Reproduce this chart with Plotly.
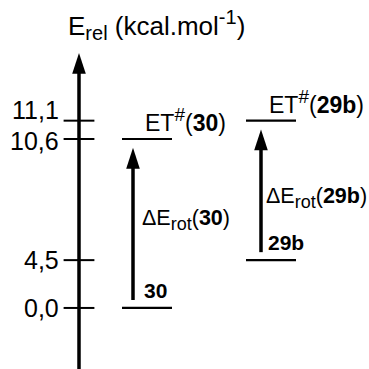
import plotly.graph_objects as go

# relative energies (kcal/mol) shown on the axis and the schematic height of each level
energy_labels = ["0,0", "4,5", "10,6", "11,1"]
energy_pos = [0.0, 3.0, 10.6, 11.75]

# the two rotations: ground state -> transition state
species = ["30", "29b"]
ground_pos = [0.0, 3.0]
ts_pos = [10.6, 11.75]

FONT = "Arial, Liberation Sans, sans-serif"
BLACK = "#000000"
SMALL = '<span style="font-size:19px">%s</span>'

axis_x = 79
col_x = [147, 271]
arrow_x = [133, 261]
half_w = 25

fig = go.Figure()

# vertical energy axis with arrow head
fig.add_trace(go.Scatter(x=[axis_x, axis_x], y=[-4, 15.0], mode="lines",
                         line=dict(color=BLACK, width=3.5), hoverinfo="skip"))
fig.add_trace(go.Scatter(x=[axis_x], y=[16.0], mode="markers",
                         marker=dict(symbol="arrow", size=22, color=BLACK,
                                     line=dict(width=0)), hoverinfo="skip"))

# ticks crossing the axis
fig.add_trace(go.Scatter(x=[axis_x] * len(energy_pos), y=energy_pos, mode="markers",
                         marker=dict(symbol="line-ew", size=22,
                                     line=dict(width=2, color=BLACK)),
                         hoverinfo="skip"))

label_shift = {"11,1": 11, "10,6": -2, "4,5": 0, "0,0": 0}
for lab, y in zip(energy_labels, energy_pos):
    fig.add_annotation(x=axis_x, y=y, text=lab, showarrow=False, xanchor="right",
                       yanchor="middle", xshift=-18, yshift=label_shift[lab],
                       font=dict(family=FONT, size=25, color=BLACK))

for i, name in enumerate(species):
    cx = col_x[i]
    for y in (ground_pos[i], ts_pos[i]):
        fig.add_trace(go.Scatter(x=[cx - half_w, cx + half_w], y=[y, y], mode="lines",
                                 line=dict(color=BLACK, width=2.2), hoverinfo="skip"))
    ax = arrow_x[i]
    y0 = ground_pos[i] + 0.5
    y1 = ts_pos[i] - 0.55
    fig.add_trace(go.Scatter(x=[ax, ax], y=[y0, y1 - 0.9], mode="lines",
                             line=dict(color=BLACK, width=3.5), hoverinfo="skip"))
    fig.add_trace(go.Scatter(x=[ax], y=[y1], mode="markers",
                             marker=dict(symbol="arrow", size=22, color=BLACK,
                                         line=dict(width=0)), hoverinfo="skip"))
    # labels
    fig.add_annotation(x=cx - 5, y=ground_pos[i], text="<b>%s</b>" % name,
                       showarrow=False, xanchor="left", yanchor="bottom", yshift=4,
                       font=dict(family=FONT, size=21, color=BLACK))
    fig.add_annotation(x=cx - 4, y=ts_pos[i],
                       text="ET<sup>%s</sup>(<b>%s</b>)" % (SMALL % "#", name),
                       showarrow=False, xanchor="left", yanchor="bottom", yshift=1,
                       font=dict(family=FONT, size=23, color=BLACK))
    fig.add_annotation(x=cx - 7, y=(ground_pos[i] + ts_pos[i]) / 2 + [0.2, -0.45][i],
                       text="\u0394E<sub>%s</sub>(<b>%s</b>)"
                       % ('<span style="font-size:18px">rot</span>', name),
                       showarrow=False, xanchor="left", yanchor="middle",
                       font=dict(family=FONT, size=21.5, color=BLACK))

fig.add_annotation(x=66, y=17.75,
                   text="E<sub>%s</sub> (kcal.mol<sup>%s</sup>)"
                   % ('<span style="font-size:20px">rel</span>',
                      '<span style="font-size:20px">-1</span>'),
                   showarrow=False, xanchor="left", yanchor="middle",
                   font=dict(family=FONT, size=26, color=BLACK))

fig.update_layout(
    width=369, height=369,
    margin=dict(l=0, r=0, t=0, b=0),
    paper_bgcolor="white", plot_bgcolor="white",
    showlegend=False,
    xaxis=dict(range=[0, 369], visible=False, fixedrange=True),
    yaxis=dict(range=[-3.83, 19.32], visible=False, fixedrange=True),
)

fig.write_html("out.html", config={"displayModeBar": False},
               post_script="document.body.style.margin='0';")
